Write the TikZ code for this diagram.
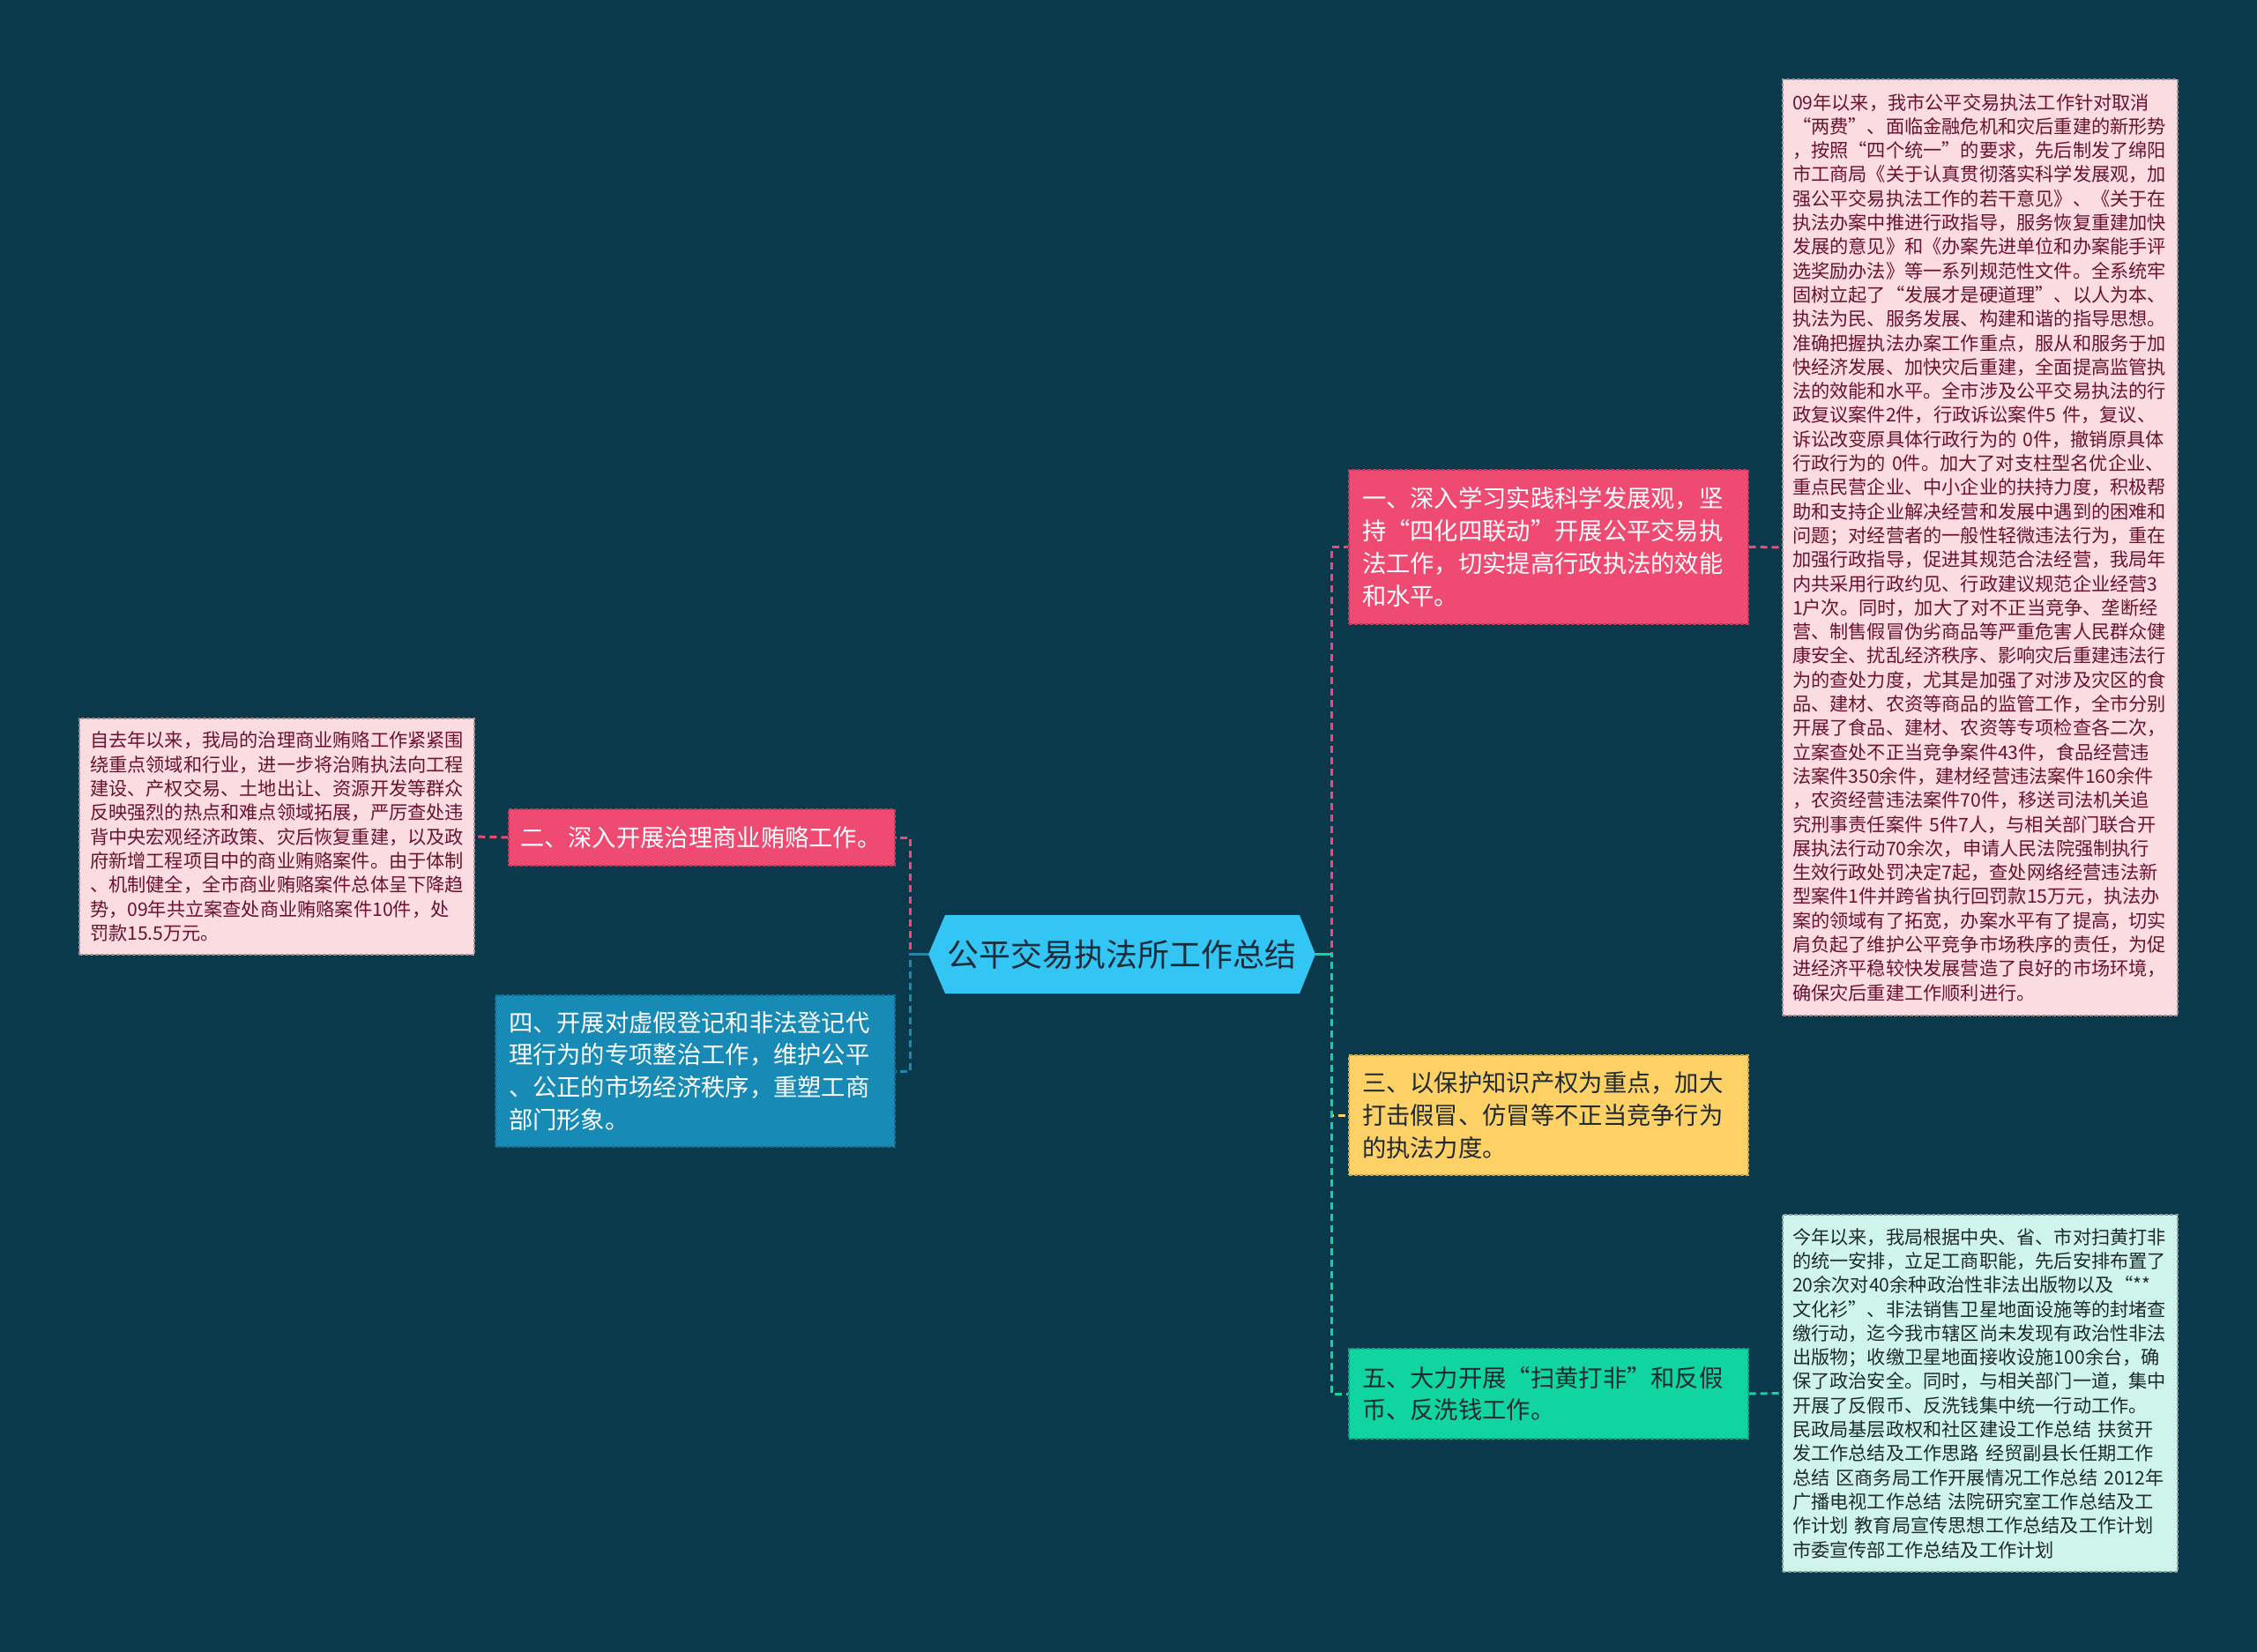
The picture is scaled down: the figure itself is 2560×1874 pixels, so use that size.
\documentclass[tikz,border=0pt]{standalone}
\usepackage{fontspec}
\setmainfont{Noto Sans CJK SC}
\definecolor{bgc}{HTML}{0B394C}
\definecolor{pinkc}{HTML}{EF4A72}
\definecolor{bluec}{HTML}{178AB6}
\definecolor{yelc}{HTML}{FDD166}
\definecolor{grnc}{HTML}{10D5A0}
\definecolor{cenc}{HTML}{33C5F3}
\definecolor{pinkbox}{HTML}{FBDCE1}
\definecolor{mintbox}{HTML}{CEF4EB}
\definecolor{maroontxt}{HTML}{6B1230}
\definecolor{darktxt}{HTML}{1F2A30}
\definecolor{roottxt}{HTML}{1B2B38}
\tikzset{
  topic/.style={fill=#1, draw=#1!80!black, dash pattern=on 4pt off 2pt, line width=1.2pt,
    inner xsep=15pt, inner ysep=0pt, align=left, anchor=center,
    font=\fontsize{27.3}{36.7}\selectfont},
  leaf/.style={fill=#1, draw=#1!65!black, dash pattern=on 4pt off 2pt, line width=1.2pt,
    inner xsep=11pt, inner ysep=0pt, align=left, anchor=center, text width=426pt,
    font=\fontsize{21.2}{27.3}\selectfont},
  link/.style={line width=3pt, dash pattern=on 8pt off 5pt},
  stub/.style={line width=3pt},
}
\begin{document}
\begin{tikzpicture}[x=1pt,y=-1pt]
\fill[bgc] (0,0) rectangle (2560,1874);
\useasboundingbox (0,0) rectangle (2560,1874);

% root hexagon
\fill[cenc] (1053,1082.5) -- (1072,1038) -- (1474,1038) -- (1492,1082.5) -- (1474,1127) -- (1072,1127) -- cycle;
\node[minimum width=439pt, minimum height=89pt, inner sep=0pt, text=roottxt,
  font=\fontsize{36}{42}\selectfont] (root) at (1272.5,1082.5) {公平交易执法所工作总结};

% right branches
\node[topic=pinkc, text=white, text width=423pt, minimum height=175pt] (n1) at (1756.5,620.5)
{一、深入学习实践科学发展观，坚\\持“四化四联动”开展公平交易执\\法工作，切实提高行政执法的效能\\和水平。};
\node[topic=yelc, text=darktxt, text width=423pt, minimum height=136pt] (n3) at (1756.5,1265)
{三、以保护知识产权为重点，加大\\打击假冒、仿冒等不正当竞争行为\\的执法力度。};
\node[topic=grnc, text=darktxt, text width=423pt, minimum height=102pt] (n5) at (1756.5,1581)
{五、大力开展“扫黄打非”和反假\\币、反洗钱工作。};

% left branches
\node[topic=pinkc, text=white, inner xsep=13pt, text width=412pt, minimum height=64pt] (n2) at (796,950)
{二、深入开展治理商业贿赂工作。};
\node[topic=bluec, text=white, text width=423pt, minimum height=172pt] (n4) at (788.5,1215)
{四、开展对虚假登记和非法登记代\\理行为的专项整治工作，维护公平\\、公正的市场经济秩序，重塑工商\\部门形象。};

% leaves
\node[leaf=pinkbox, text=maroontxt, minimum height=1062pt] (t1) at (2246,621)
{09年以来，我市公平交易执法工作针对取消\\
“两费”、面临金融危机和灾后重建的新形势\\
，按照“四个统一”的要求，先后制发了绵阳\\
市工商局《关于认真贯彻落实科学发展观，加\\
强公平交易执法工作的若干意见》、《关于在\\
执法办案中推进行政指导，服务恢复重建加快\\
发展的意见》和《办案先进单位和办案能手评\\
选奖励办法》等一系列规范性文件。全系统牢\\
固树立起了“发展才是硬道理”、以人为本、\\
执法为民、服务发展、构建和谐的指导思想。\\
准确把握执法办案工作重点，服从和服务于加\\
快经济发展、加快灾后重建，全面提高监管执\\
法的效能和水平。全市涉及公平交易执法的行\\
政复议案件2件，行政诉讼案件5 件，复议、\\
诉讼改变原具体行政行为的 0件，撤销原具体\\
行政行为的 0件。加大了对支柱型名优企业、\\
重点民营企业、中小企业的扶持力度，积极帮\\
助和支持企业解决经营和发展中遇到的困难和\\
问题；对经营者的一般性轻微违法行为，重在\\
加强行政指导，促进其规范合法经营，我局年\\
内共采用行政约见、行政建议规范企业经营3\\
1户次。同时，加大了对不正当竞争、垄断经\\
营、制售假冒伪劣商品等严重危害人民群众健\\
康安全、扰乱经济秩序、影响灾后重建违法行\\
为的查处力度，尤其是加强了对涉及灾区的食\\
品、建材、农资等商品的监管工作，全市分别\\
开展了食品、建材、农资等专项检查各二次，\\
立案查处不正当竞争案件43件，食品经营违\\
法案件350余件，建材经营违法案件160余件\\
，农资经营违法案件70件，移送司法机关追\\
究刑事责任案件 5件7人，与相关部门联合开\\
展执法行动70余次，申请人民法院强制执行\\
生效行政处罚决定7起，查处网络经营违法新\\
型案件1件并跨省执行回罚款15万元，执法办\\
案的领域有了拓宽，办案水平有了提高，切实\\
肩负起了维护公平竞争市场秩序的责任，为促\\
进经济平稳较快发展营造了良好的市场环境，\\
确保灾后重建工作顺利进行。};

\node[leaf=pinkbox, text=maroontxt, inner xsep=12pt, text width=424pt, minimum height=268pt] (t2) at (314,949)
{自去年以来，我局的治理商业贿赂工作紧紧围\\
绕重点领域和行业，进一步将治贿执法向工程\\
建设、产权交易、土地出让、资源开发等群众\\
反映强烈的热点和难点领域拓展，严厉查处违\\
背中央宏观经济政策、灾后恢复重建，以及政\\
府新增工程项目中的商业贿赂案件。由于体制\\
、机制健全，全市商业贿赂案件总体呈下降趋\\
势，09年共立案查处商业贿赂案件10件，处\\
罚款15.5万元。};

\node[leaf=mintbox, text=darktxt, minimum height=405pt] (t5) at (2246,1580.5)
{今年以来，我局根据中央、省、市对扫黄打非\\
的统一安排，立足工商职能，先后安排布置了\\
20余次对40余种政治性非法出版物以及“**\\
文化衫”、非法销售卫星地面设施等的封堵查\\
缴行动，迄今我市辖区尚未发现有政治性非法\\
出版物；收缴卫星地面接收设施100余台，确\\
保了政治安全。同时，与相关部门一道，集中\\
开展了反假币、反洗钱集中统一行动工作。\\
民政局基层政权和社区建设工作总结 扶贫开\\
发工作总结及工作思路 经贸副县长任期工作\\
总结 区商务局工作开展情况工作总结 2012年\\
广播电视工作总结 法院研究室工作总结及工\\
作计划 教育局宣传思想工作总结及工作计划\\
市委宣传部工作总结及工作计划};

% connectors root -> branches
\draw[link, pinkc] (root.east) -- ++(18,0) |- (n1.west);
\draw[link, yelc] (root.east) -- ++(18,0) |- (n3.west);
\draw[link, grnc] (root.east) -- ++(18,0) |- (n5.west);
\draw[stub, grnc] (root.east) -- ++(18,0);
\draw[link, pinkc] (root.west) -- ++(-20,0) |- (n2.east);
\draw[link, bluec] (root.west) -- ++(-20,0) |- (n4.east);
\draw[stub, bluec] (root.west) -- ++(-20,0);

% connectors branches -> leaves
\draw[link, pinkc] (n1.east) -- (t1.west);
\draw[link, pinkc] (n2.west) -- (t2.east);
\draw[link, grnc] (n5.east) -- (t5.west);
\end{tikzpicture}
\end{document}
